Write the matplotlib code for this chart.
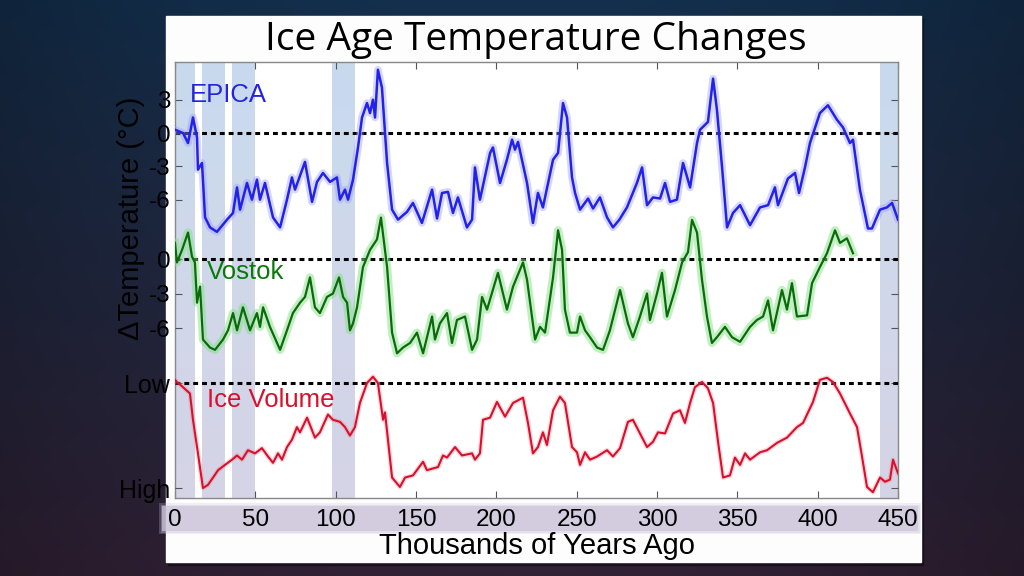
import numpy as np
import matplotlib
matplotlib.use("Agg")
import matplotlib.pyplot as plt
from matplotlib.colors import LinearSegmentedColormap
from matplotlib.patches import Rectangle

# ---------------- data ----------------
epica_age = [0, 5.0, 8.1, 11.2, 13.7, 14.3, 16.8, 18.7, 21.8, 26.1, 32.4, 36.1, 38.6, 40.5,
             44.8, 47.9, 51.0, 52.9, 56.0, 61.0, 65.4, 69.7, 72.8, 74.7, 80.9, 85.3, 88.4,
             92.1, 96.5, 100.8, 102.7, 105.8, 107.7, 110.8, 113.9, 116.4, 119.5, 121.4,
             123.2, 124.5, 126.3, 128.8, 132.0, 135.1, 138.8, 144.4, 148.1, 153.7, 160.0,
             163.1, 166.2, 169.9, 173.0, 176.1, 181.7, 184.9, 186.7, 189.8, 196.1, 197.9,
             202.3, 206.6, 209.8, 211.6, 213.5, 219.1, 222.8, 225.9, 229.0, 235.3, 238.4,
             241.5, 244.0, 247.1, 249.0, 252.1, 257.1, 260.2, 264.5, 268.9, 272.6, 276.6,
             281.3, 287.5, 290.7, 293.8, 297.5, 301.9, 305.0, 308.1, 312.4, 316.2, 320.6,
             324.9, 326.8, 331.7, 334.9, 337.3, 340.5, 343.6, 347.3, 351.7, 357.9, 364.1,
             369.1, 373.4, 375.3, 381.5, 385.9, 388.4, 392.1, 395.2, 401.4, 406.4, 412.0,
             415.8, 420.1, 422.0, 426.3, 431.3, 433.8, 438.8, 443.1, 446.3, 450.0]
epica_temp = [0.3, 0.0, -0.9, 1.4, -0.4, -3.3, -2.7, -7.6, -8.5, -8.9, -7.8, -7.2, -4.9, -6.9,
              -4.5, -6.0, -4.2, -6.0, -4.5, -7.6, -8.5, -6.0, -4.0, -5.1, -2.6, -6.2, -4.4,
              -3.6, -4.4, -4.0, -6.0, -5.1, -6.0, -4.2, -1.3, 1.4, 2.7, 1.8,
              3.0, 1.4, 5.7, 4.1, -2.7, -6.9, -7.8, -7.1, -6.3, -8.1, -5.1,
              -7.7, -5.4, -5.3, -7.2, -5.8, -8.5, -7.8, -3.1, -6.0, -1.8, -1.3,
              -4.5, -2.4, -0.6, -1.5, -0.8, -4.5, -8.1, -5.4, -6.7, -2.4, -1.8,
              2.7, 1.4, -4.0, -5.4, -6.9, -5.9, -6.8, -5.8, -7.6, -8.5, -7.8,
              -6.7, -4.5, -3.1, -6.5, -5.8, -5.9, -4.5, -6.2, -6.0, -2.7, -4.9,
              -0.9, 0.3, 1.0, 4.9, 2.1, -3.1, -8.5, -7.2, -6.5, -8.3, -6.7,
              -6.5, -4.9, -6.5, -4.1, -3.6, -5.4, -3.1, -0.9, 1.8, 2.5, 1.2,
              0.5, -0.9, -0.6, -5.1, -8.6, -8.6, -6.9, -6.7, -6.3, -7.8]

vostok_age = [0, 1.2, 4.4, 8.1, 10.6, 12.4, 13.7, 15.6, 17.4, 21.8, 24.9, 29.9, 33.0, 36.1,
              38.6, 42.3, 46.7, 51.0, 52.9, 54.8, 59.1, 65.4, 69.7, 73.4, 77.8, 80.9, 84.0,
              87.1, 90.2, 94.6, 98.3, 102.1, 104.6, 107.1, 108.9, 110.8, 113.3, 117.0, 121.4,
              125.7, 128.2, 132.0, 135.1, 138.2, 141.9, 146.3, 150.6, 154.4, 160.0, 161.8,
              164.9, 169.3, 172.4, 175.5, 180.5, 184.9, 188.0, 191.1, 194.2, 201.0, 206.6,
              210.4, 216.6, 219.1, 224.1, 227.2, 230.3, 235.3, 238.4, 240.9, 242.7, 245.8,
              250.2, 252.1, 255.2, 258.3, 262.7, 266.4, 270.7, 277.0, 281.9, 285.0, 289.4,
              293.8, 295.6, 300.0, 303.1, 306.2, 311.2, 315.6, 319.3, 321.8, 324.9, 328.0,
              331.1, 334.2, 337.3, 342.3, 346.7, 351.7, 357.9, 362.2, 366.0, 369.1, 372.2,
              377.8, 380.9, 384.0, 387.1, 393.4, 396.5, 401.4, 405.8, 410.8, 413.9, 418.2,
              422.0]
vostok_temp = [1.4, -0.3, 0.8, 2.3, 0.2, -0.3, -3.8, -2.4, -7.0, -7.7, -7.9, -7.0, -6.2, -4.7,
               -6.2, -4.2, -6.2, -4.7, -5.9, -4.2, -5.9, -7.9, -6.2, -4.7, -3.8, -3.3, -1.6,
               -4.2, -4.7, -3.3, -3.0, -1.6, -3.3, -3.8, -6.2, -5.6, -4.2, -0.7, 0.8,
               1.7, 3.6, -0.7, -6.4, -8.2, -7.7, -7.3, -6.4, -8.2, -5.0, -7.0,
               -5.6, -4.7, -7.3, -5.3, -5.0, -7.9, -7.0, -3.3, -4.4, -1.2, -4.4,
               -2.4, -0.3, -1.8, -7.0, -5.9, -6.4, -1.6, 2.5, 0.8, -4.4, -6.4,
               -6.4, -5.0, -6.2, -6.8, -7.7, -7.9, -6.2, -2.7, -5.6, -6.8, -5.0,
               -3.0, -5.3, -3.0, -1.2, -5.0, -2.7, -0.3, 0.6, 3.4, 2.3, -1.8,
               -5.0, -7.3, -6.8, -5.9, -6.8, -7.2, -5.9, -5.3, -5.0, -3.6, -6.2,
               -2.7, -4.4, -2.1, -5.0, -4.9, -2.1, -0.7, 0.5, 2.5, 1.4, 1.8,
               0.5]

# ice volume index: 0 = Low, 1 = High
ice_age = [0, 1.2, 5.0, 9.3, 11.2, 14.3, 17.4, 20.5, 23.7, 26.8, 31.1, 35.5, 38.6, 41.7, 45.4,
           49.8, 54.1, 57.9, 61.0, 64.1, 66.6, 69.7, 72.8, 75.9, 77.8, 82.2, 87.1, 90.2, 95.2,
           98.3, 102.7, 105.8, 108.9, 112.0, 115.1, 119.5, 123.2, 126.3, 129.5, 130.7, 135.1,
           140.0, 143.2, 148.1, 154.4, 156.8, 163.7, 166.8, 169.3, 174.3, 178.6, 184.9, 186.7,
           189.8, 191.7, 196.1, 200.4, 205.4, 210.4, 216.6, 219.7, 222.8, 225.9, 229.0, 231.5,
           235.3, 239.6, 242.7, 247.1, 250.2, 252.1, 255.2, 258.3, 262.7, 268.9, 272.6, 277.0,
           281.9, 285.0, 289.4, 293.8, 297.5, 300.6, 305.0, 310.0, 314.3, 317.4, 320.6, 323.6,
           328.0, 331.7, 334.9, 338.0, 341.1, 345.4, 348.5, 351.7, 354.8, 357.9, 364.1, 368.5,
           374.7, 380.9, 387.1, 390.9, 397.1, 401.4, 405.8, 409.5, 413.9, 420.1, 424.5, 427.6,
           430.7, 434.4, 438.8, 441.9, 445.0, 446.9, 450.0]
ice_vol = [-0.03, -0.01, 0.04, 0.10, 0.35, 0.67, 1.00, 0.97, 0.90, 0.83, 0.78, 0.73, 0.69, 0.73,
           0.64, 0.67, 0.62, 0.70, 0.76, 0.67, 0.73, 0.61, 0.54, 0.42, 0.47, 0.33, 0.52, 0.47,
           0.30, 0.35, 0.37, 0.42, 0.50, 0.42, 0.19, 0.00, -0.06, 0.00, 0.35, 0.28, 0.90,
           0.99, 0.90, 0.88, 0.75, 0.83, 0.80, 0.69, 0.71, 0.61, 0.69, 0.67, 0.73,
           0.67, 0.35, 0.33, 0.18, 0.32, 0.19, 0.14, 0.38, 0.67, 0.61, 0.47, 0.59,
           0.26, 0.13, 0.19, 0.61, 0.66, 0.78, 0.66, 0.73, 0.70, 0.64, 0.70, 0.62,
           0.37, 0.35, 0.48, 0.61, 0.56, 0.47, 0.48, 0.29, 0.26, 0.38, 0.19, 0.04,
           -0.01, 0.05, 0.19, 0.56, 0.90, 0.88, 0.71, 0.78, 0.67, 0.73, 0.66, 0.64,
           0.57, 0.52, 0.42, 0.38, 0.18, -0.03, -0.05, -0.01, 0.10, 0.29, 0.42, 0.70,
           0.99, 1.04, 0.90, 0.94, 0.92, 0.73, 0.86]

x_ticks = [0, 50, 100, 150, 200, 250, 300, 350, 400, 450]
epica_ticks = [3, 0, -3, -6]
vostok_ticks = [0, -3, -6]
ice_ticks = [0, 1]
ice_tick_labels = ["Low", "High"]
warm_bands = [(0, 12.4), (16.8, 31.1), (35.5, 49.8), (97.7, 112.0), (438.5, 450.0)]

title = "Ice Age Temperature Changes"
xlabel = "Thousands of Years Ago"
ylabel = "\u0394Temperature (\u00b0C)"

# ---------------- figure ----------------
plt.rcParams["font.family"] = ["Liberation Sans", "DejaVu Sans"]
W, H = 1024, 576
fig = plt.figure(figsize=(W / 100, H / 100), dpi=100)

def px(x0, y0, x1, y1):
    return [x0 / W, 1 - y1 / H, (x1 - x0) / W, (y1 - y0) / H]

# background gradient
bg = fig.add_axes([0, 0, 1, 1])
bg.set_axis_off()
t = np.linspace(0, 1, 240)[:, None, None]
s = np.linspace(0, 1, 400)[None, :, None]
top = np.array([20, 48, 78]) / 255
bot = np.array([50, 34, 54]) / 255
img = top * (1 - t) + bot * t
vign = 1 - 0.25 * ((s - 0.5) * 2) ** 2 * np.ones_like(t)
img = np.clip(img * vign, 0, 1)
bg.imshow(img, extent=(0, 1, 0, 1), aspect="auto", origin="upper")
bg.set_xlim(0, 1)
bg.set_ylim(0, 1)
# card shadow + card
bg.add_patch(Rectangle((168 / W, 1 - 565 / H), 755 / W, 547 / H, color="black", alpha=0.35,
                       transform=bg.transAxes))
bg.add_patch(Rectangle((166 / W, 1 - 562 / H), 755 / W, 546 / H, color="#fdfdfd",
                       transform=bg.transAxes))
# tick-label band (soft edges)
for pad, a in [(3, 0.25), (1.5, 0.35), (0, 0.7)]:
    bg.add_patch(Rectangle(((162 - pad) / W, 1 - (531 + pad) / H), (756 + 2 * pad) / W,
                           (25 + 2 * pad) / H, color="#cdc5db", alpha=a, lw=0,
                           transform=bg.transAxes))

pos = px(175, 62, 898, 498)
ax = fig.add_axes(pos)
ax.set_facecolor("white")
E_LIM = (-32.88, 6.40)
ax.set_xlim(0, 450)
ax.set_ylim(*E_LIM)

# warm-period bands with vertical gradient
band_cmap = LinearSegmentedColormap.from_list("band", ["#c9c8df", "#c3cde4", "#b9d0ea"])
grad = np.linspace(0, 1, 256)[:, None]
for a, b in warm_bands:
    ax.imshow(grad, extent=(a, b, E_LIM[0], E_LIM[1]), aspect="auto", origin="lower",
              cmap=band_cmap, alpha=0.78, zorder=0.5)
ax.set_xlim(0, 450)
ax.set_ylim(*E_LIM)

dash = (0, (1.6, 1.3))
ax.axhline(0, color="black", lw=2.2, ls=dash, zorder=2)
ax.plot(epica_age, epica_temp, color="#9a9aff", lw=5.5, alpha=0.4, solid_capstyle="round",
        zorder=3)
ax.plot(epica_age, epica_temp, color="#2222e8", lw=1.8, zorder=4)

ax.set_xticks(x_ticks)
ax.set_xticklabels([str(v) for v in x_ticks])
ax.set_yticks(epica_ticks)
ax.set_yticklabels([str(v) for v in epica_ticks])
ax.tick_params(axis="both", direction="in", length=5, width=0.8, top=True, right=True,
               labelsize=17.5, color="#555555")
ax.tick_params(axis="x", pad=8)
for sp in ax.spines.values():
    sp.set_color("#888888")
    sp.set_linewidth(1.0)

# Vostok axis
ax2 = fig.add_axes(pos)
ax2.patch.set_visible(False)
ax2.set_xlim(0, 450)
ax2.set_ylim(-20.78, 17.13)
ax2.axhline(0, color="black", lw=2.2, ls=dash, zorder=2)
ax2.plot(vostok_age, vostok_temp, color="#86e086", lw=6, alpha=0.5, zorder=3)
ax2.plot(vostok_age, vostok_temp, color="#0b6a0b", lw=1.6, zorder=4)
ax2.set_yticks(vostok_ticks)
ax2.set_yticklabels([str(v) for v in vostok_ticks])
ax2.tick_params(axis="y", direction="in", length=5, width=0.8, right=True, labelsize=17.5,
                color="#555555")
ax2.tick_params(axis="x", bottom=False, top=False, labelbottom=False)
for sp in ax2.spines.values():
    sp.set_visible(False)

# Ice volume axis
ax3 = fig.add_axes(pos)
ax3.patch.set_visible(False)
ax3.set_xlim(0, 450)
ax3.set_ylim(1.095, -3.057)
ax3.axhline(0, color="black", lw=2.2, ls=dash, zorder=2)
ax3.plot(ice_age, ice_vol, color="#f08090", lw=3.5, alpha=0.3, zorder=3)
ax3.plot(ice_age, ice_vol, color="#d8102c", lw=1.5, zorder=4)
ax3.set_yticks(ice_ticks)
ax3.set_yticklabels(ice_tick_labels)
ax3.tick_params(axis="y", direction="in", length=5, width=0.8, right=True, labelsize=18,
                color="#555555")
ax3.tick_params(axis="x", bottom=False, top=False, labelbottom=False)
for sp in ax3.spines.values():
    sp.set_visible(False)

# series labels
fig.text(190 / W, 1 - 95 / H, "EPICA", color="#2424e0", fontsize=18.5, va="center", ha="left")
fig.text(207 / W, 1 - 272 / H, "Vostok", color="#0b7a0b", fontsize=18.5, va="center", ha="left")
fig.text(207 / W, 1 - 400 / H, "Ice Volume", color="#d8102c", fontsize=18.5, va="center",
         ha="left")

# axis labels and title
fig.text(537 / W, 1 - 546 / H, xlabel, fontsize=21, ha="center", va="center")
fig.text(131 / W, 1 - 218 / H, ylabel, fontsize=21, rotation=90, ha="center", va="center")
tt = fig.text(536 / W, 1 - 40 / H, title, fontsize=32, ha="center", va="center",
              family=["Open Sans", "DejaVu Sans"])
# fit title width to reference (~543 px)
fig.canvas.draw()
wpx = tt.get_window_extent().width
tt.set_fontsize(32 * 543 / wpx)

fig.savefig("out.png", dpi=100)
